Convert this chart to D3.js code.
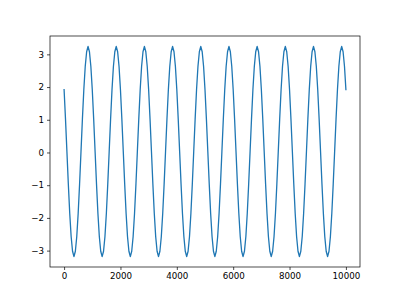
<!DOCTYPE html>
<meta charset="utf-8">
<script src="https://d3js.org/d3.v7.min.js"></script>
<style>
  body { margin: 0; background: #fff; }
  .tick text { font-family: "DejaVu Sans", sans-serif; font-size: 8.7px; fill: #000; }
</style>
<div id="my_dataviz"></div>
<script>
// x positions of the samples (every 50 steps from 0 to 10000)
var xStep = 50;
var xTicks = [0, 2000, 4000, 6000, 8000, 10000];
var yTicks = [-3, -2, -1, 0, 1, 2, 3];

var yValues = [
  1.92, 1.02, 0.03, -0.96, -1.86, -2.57, -3.02, -3.18, -3.02, -2.57, -1.86, -0.96, 0.03, 1.02, 1.92, 2.63, 3.08, 3.24, 3.08, 2.63,
  1.92, 1.02, 0.03, -0.96, -1.86, -2.57, -3.02, -3.18, -3.02, -2.57, -1.86, -0.96, 0.03, 1.02, 1.92, 2.63, 3.08, 3.24, 3.08, 2.63,
  1.92, 1.02, 0.03, -0.96, -1.86, -2.57, -3.02, -3.18, -3.02, -2.57, -1.86, -0.96, 0.03, 1.02, 1.92, 2.63, 3.08, 3.24, 3.08, 2.63,
  1.92, 1.02, 0.03, -0.96, -1.86, -2.57, -3.02, -3.18, -3.02, -2.57, -1.86, -0.96, 0.03, 1.02, 1.92, 2.63, 3.08, 3.24, 3.08, 2.63,
  1.92, 1.02, 0.03, -0.96, -1.86, -2.57, -3.02, -3.18, -3.02, -2.57, -1.86, -0.96, 0.03, 1.02, 1.92, 2.63, 3.08, 3.24, 3.08, 2.63,
  1.92, 1.02, 0.03, -0.96, -1.86, -2.57, -3.02, -3.18, -3.02, -2.57, -1.86, -0.96, 0.03, 1.02, 1.92, 2.63, 3.08, 3.24, 3.08, 2.63,
  1.92, 1.02, 0.03, -0.96, -1.86, -2.57, -3.02, -3.18, -3.02, -2.57, -1.86, -0.96, 0.03, 1.02, 1.92, 2.63, 3.08, 3.24, 3.08, 2.63,
  1.92, 1.02, 0.03, -0.96, -1.86, -2.57, -3.02, -3.18, -3.02, -2.57, -1.86, -0.96, 0.03, 1.02, 1.92, 2.63, 3.08, 3.24, 3.08, 2.63,
  1.92, 1.02, 0.03, -0.96, -1.86, -2.57, -3.02, -3.18, -3.02, -2.57, -1.86, -0.96, 0.03, 1.02, 1.92, 2.63, 3.08, 3.24, 3.08, 2.63,
  1.92, 1.02, 0.03, -0.96, -1.86, -2.57, -3.02, -3.18, -3.02, -2.57, -1.86, -0.96, 0.03, 1.02, 1.92, 2.63, 3.08, 3.24, 3.08, 2.63,
  1.92
];

// set the dimensions and margins of the graph
var margin = {top: 36, right: 40, bottom: 33, left: 50},
    width = 400 - margin.left - margin.right,
    height = 300 - margin.top - margin.bottom;

var svg = d3.select("#my_dataviz")
  .append("svg")
    .attr("width", 400)
    .attr("height", 300)
  .append("g")
    .attr("transform", "translate(" + margin.left + "," + margin.top + ")");

var data = yValues.map(function(v, i) { return {x: i * xStep, y: v}; });

// matplotlib-like 5% margins
var xExt = d3.extent(data, function(d) { return d.x; }),
    yExt = d3.extent(data, function(d) { return d.y; });
var xPad = (xExt[1] - xExt[0]) * 0.05,
    yPad = (yExt[1] - yExt[0]) * 0.05;

var x = d3.scaleLinear()
  .domain([xExt[0] - xPad, xExt[1] + xPad])
  .range([0, width]);
var y = d3.scaleLinear()
  .domain([yExt[0] - yPad, yExt[1] + yPad])
  .range([height, 0]);

var fmt = function(d) { return String(d).replace("-", "\u2212"); };

// X axis
svg.append("g")
  .attr("transform", "translate(0," + height + ")")
  .call(d3.axisBottom(x).tickValues(xTicks).tickFormat(fmt).tickSize(3).tickPadding(3))
  .call(function(g) { g.select(".domain").remove(); })
  .call(function(g) { g.selectAll(".tick line").attr("stroke", "#000").attr("stroke-width", 0.7); });

// Y axis
svg.append("g")
  .call(d3.axisLeft(y).tickValues(yTicks).tickFormat(fmt).tickSize(3).tickPadding(3))
  .call(function(g) { g.select(".domain").remove(); })
  .call(function(g) { g.selectAll(".tick line").attr("stroke", "#000").attr("stroke-width", 0.7); });

// the line
svg.append("path")
  .datum(data)
  .attr("fill", "none")
  .attr("stroke", "#1f77b4")
  .attr("stroke-width", 1.3)
  .attr("stroke-linejoin", "round")
  .attr("stroke-linecap", "square")
  .attr("d", d3.line()
    .x(function(d) { return x(d.x); })
    .y(function(d) { return y(d.y); }));

// frame
svg.append("rect")
  .attr("width", width)
  .attr("height", height)
  .attr("fill", "none")
  .attr("stroke", "#000")
  .attr("stroke-width", 0.7);
</script>
